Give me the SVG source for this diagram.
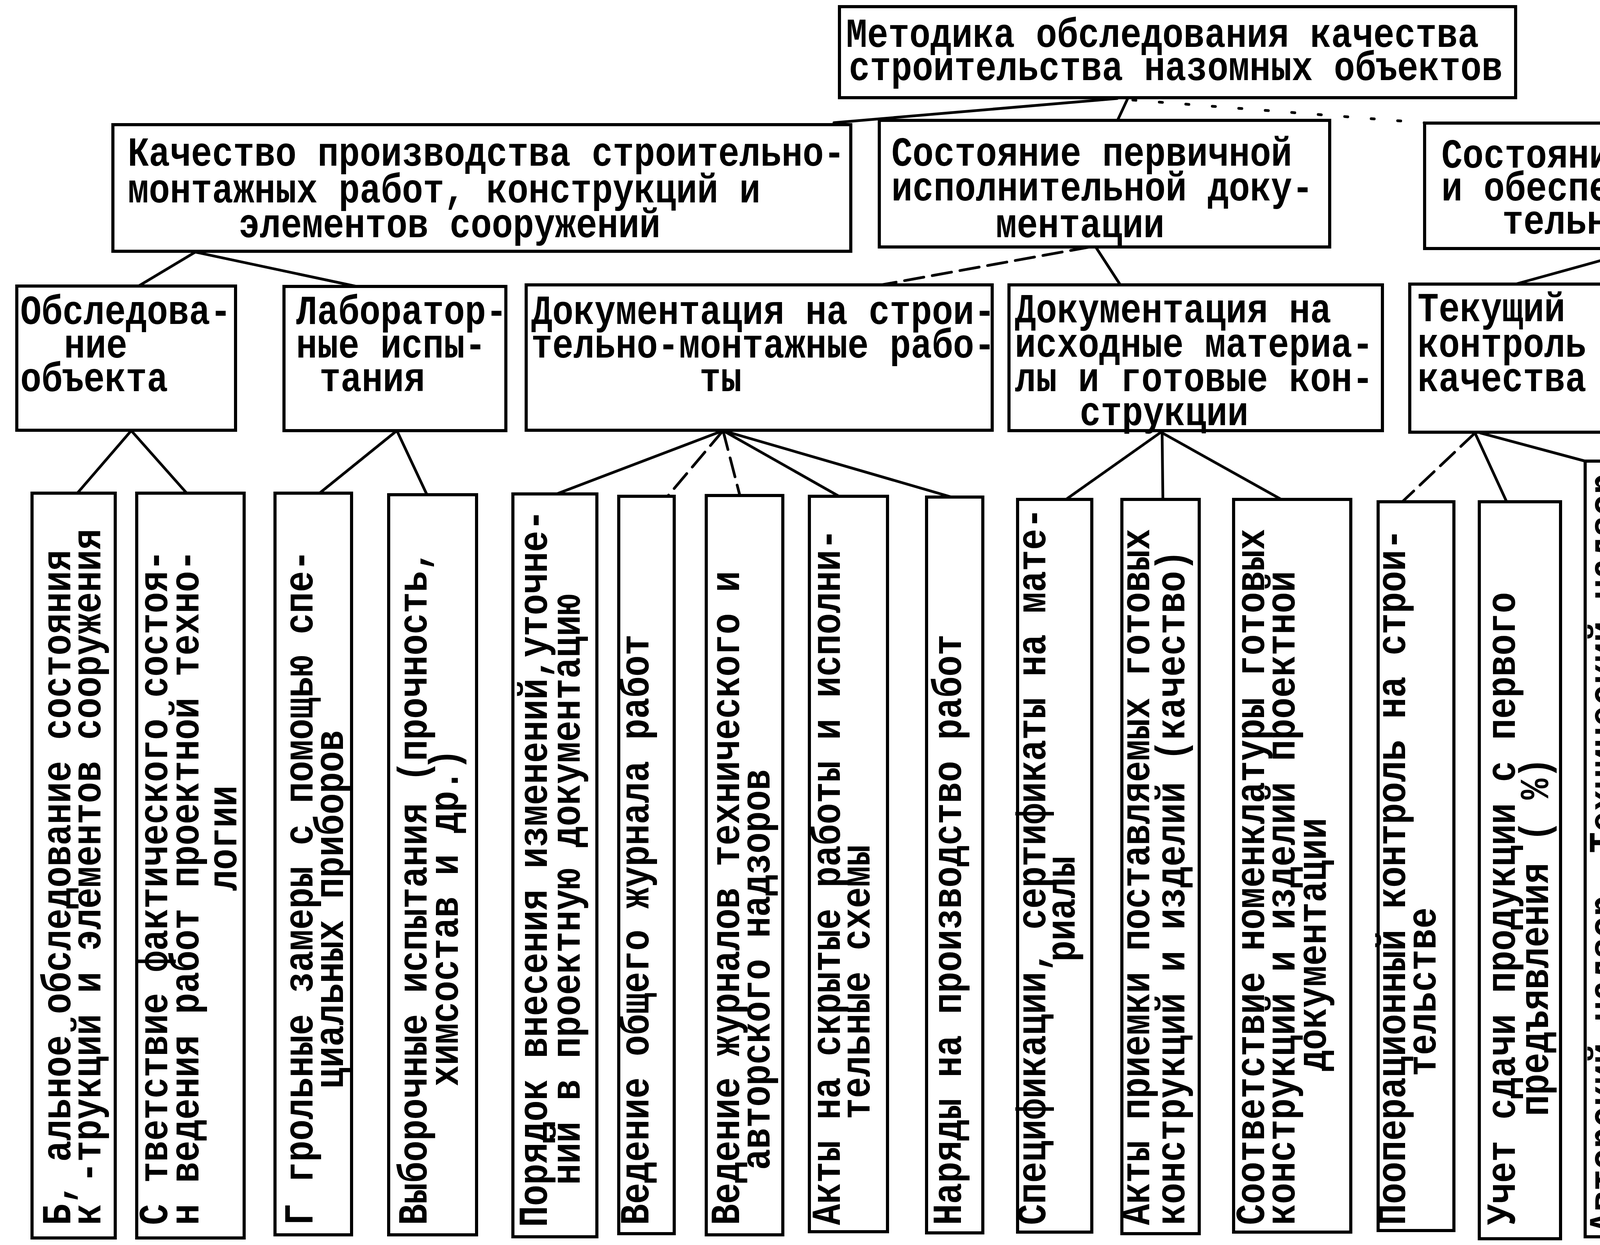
<svg xmlns="http://www.w3.org/2000/svg" width="5312" height="3186" viewBox="0 0 5312 3186">
<style>
.box{fill:#fff;stroke:#000;stroke-width:8}
.t{font-family:"Liberation Mono","DejaVu Sans Mono",monospace;font-weight:bold;font-size:105px;fill:#000}
.c{stroke:#000;stroke-width:7;fill:none;stroke-linecap:round}
.d{stroke-dasharray:50 22}
.o{stroke-dasharray:8 60}
</style>
<rect x="0" y="0" width="5312" height="3186" fill="#fff"/>
<g id="connectors">
<line class="c" x1="2860" y1="252" x2="2135" y2="314"/>
<line class="c" x1="2887" y1="252" x2="2860" y2="310"/>
<line class="c o" x1="2900" y1="256" x2="3655" y2="315"/>
<line class="c" x1="500" y1="645" x2="353" y2="733"/>
<line class="c" x1="500" y1="645" x2="913" y2="733"/>
<line class="c d" x1="2790" y1="632" x2="2256" y2="729"/>
<line class="c" x1="2805" y1="632" x2="2868" y2="729"/>
<line class="c" x1="4209" y1="636" x2="3880" y2="727"/>
<line class="c" x1="4209" y1="636" x2="4590" y2="725"/>
<line class="c" x1="336" y1="1102" x2="198" y2="1262"/>
<line class="c" x1="336" y1="1102" x2="478" y2="1262"/>
<line class="c" x1="1016" y1="1102" x2="818" y2="1262"/>
<line class="c" x1="1016" y1="1102" x2="1093" y2="1266"/>
<line class="c" x1="1851" y1="1102" x2="1425" y2="1264"/>
<line class="c d" x1="1851" y1="1102" x2="1709" y2="1270"/>
<line class="c d" x1="1851" y1="1102" x2="1894" y2="1268"/>
<line class="c" x1="1851" y1="1102" x2="2148" y2="1270"/>
<line class="c" x1="1851" y1="1102" x2="2436" y2="1272"/>
<line class="c" x1="2972" y1="1106" x2="2729" y2="1278"/>
<line class="c" x1="2975" y1="1106" x2="2977" y2="1278"/>
<line class="c" x1="2972" y1="1106" x2="3280" y2="1278"/>
<line class="c d" x1="3776" y1="1108" x2="3590" y2="1284"/>
<line class="c" x1="3776" y1="1108" x2="3857" y2="1284"/>
<line class="c" x1="3790" y1="1108" x2="4058" y2="1180"/>
<line class="c" x1="4702" y1="1106" x2="4350" y2="1246"/>
<line class="c d" x1="4702" y1="1106" x2="4575" y2="1244"/>
<line class="c" x1="4702" y1="1106" x2="4800" y2="1246"/>
<line class="c" x1="4702" y1="1106" x2="4967" y2="1246"/>
<line class="c d" x1="4702" y1="1106" x2="5200" y2="1246"/>
</g>
<g id="n0"><rect class="box" x="2149" y="17" width="1731" height="233"/>
<text class="t" transform="translate(2166,120) scale(0.857,1)">Методика обследования качества</text>
<text class="t" transform="translate(2173,205) scale(0.857,1)">строительства назомных объектов</text></g>
<g id="nA"><rect class="box" x="289" y="319" width="1889" height="324"/>
<text class="t" transform="translate(327,424) scale(0.857,1)">Качество производства строительно-</text>
<text class="t" transform="translate(327,518) scale(0.857,1)">монтажных работ, конструкций и</text>
<text class="t" transform="translate(611,607) scale(0.857,1)">элементов сооружений</text></g>
<g id="nB"><rect class="box" x="2251" y="308" width="1153" height="324"/>
<text class="t" transform="translate(2282,424) scale(0.857,1)">Состояние первичной</text>
<text class="t" transform="translate(2282,513) scale(0.857,1)">исполнительной доку-</text>
<text class="t" transform="translate(2549,607) scale(0.857,1)">ментации</text></g>
<g id="nC"><rect class="box" x="3647" y="315" width="1652" height="321"/>
<text class="t" transform="translate(3690,429) scale(0.857,1)">Состояние текущего контроля</text>
<text class="t" transform="translate(3690,513) scale(0.857,1)">и обеспечения качества строи-</text>
<text class="t" transform="translate(3846,598) scale(0.857,1)">тельно-монтажных работ</text></g>
<g id="nD1"><rect class="box" x="43" y="732" width="560" height="369"/>
<text class="t" transform="translate(52,829) scale(0.857,1)">Обследова-</text>
<text class="t" transform="translate(164,915) scale(0.857,1)">ние</text>
<text class="t" transform="translate(52,1001) scale(0.857,1)">объекта</text></g>
<g id="nD2"><rect class="box" x="727" y="733" width="568" height="369"/>
<text class="t" transform="translate(758,829) scale(0.857,1)">Лаборатор-</text>
<text class="t" transform="translate(758,915) scale(0.857,1)">ные испы-</text>
<text class="t" transform="translate(818,1001) scale(0.857,1)">тания</text></g>
<g id="nD3"><rect class="box" x="1347" y="729" width="1193" height="372"/>
<text class="t" transform="translate(1360,829) scale(0.857,1)">Документация на строи-</text>
<text class="t" transform="translate(1360,915) scale(0.857,1)">тельно-монтажные рабо-</text>
<text class="t" transform="translate(1791,1001) scale(0.857,1)">ты</text></g>
<g id="nD4"><rect class="box" x="2583" y="729" width="956" height="373"/>
<text class="t" transform="translate(2598,825) scale(0.857,1)">Документация на</text>
<text class="t" transform="translate(2598,913) scale(0.857,1)">исходные материа-</text>
<text class="t" transform="translate(2598,1001) scale(0.857,1)">лы и готовые кон-</text>
<text class="t" transform="translate(2764,1088) scale(0.857,1)">струкции</text></g>
<g id="nD5"><rect class="box" x="3609" y="727" width="501" height="379"/>
<text class="t" transform="translate(3629,822) scale(0.857,1)">Текущий</text>
<text class="t" transform="translate(3629,913) scale(0.857,1)">контроль</text>
<text class="t" transform="translate(3629,1001) scale(0.857,1)">качества</text></g>
<g id="nD6"><rect class="box" x="4356" y="725" width="657" height="381"/>
<text class="t" transform="translate(4391,820) scale(0.857,1)">Обеспечение</text>
<text class="t" transform="translate(4391,910) scale(0.857,1)">качества</text></g>
<g id="v1"><rect class="box" x="82" y="1262" width="213" height="1906"/>
<text class="t" transform="translate(180,3135) rotate(-90) scale(0.857,1)">Б,  альное обследование состояния</text>
<text class="t" transform="translate(257,3135) rotate(-90) scale(0.857,1)">к  -трукций и элементов сооружения</text></g>
<g id="v2"><rect class="box" x="350" y="1262" width="275" height="1906"/>
<text class="t" transform="translate(428,3135) rotate(-90) scale(0.857,1)">С  тветствие фактического состоя-</text>
<text class="t" transform="translate(508,3135) rotate(-90) scale(0.857,1)">н   ведения работ проектной техно-</text>
<text class="t" transform="translate(605,2280) rotate(-90) scale(0.857,1)">логии</text></g>
<g id="v3"><rect class="box" x="704" y="1262" width="196" height="1898"/>
<text class="t" transform="translate(800,3135) rotate(-90) scale(0.857,1)">Г  грольные замеры с помощью спе-</text>
<text class="t" transform="translate(878,2786) rotate(-90) scale(0.857,1)">циальных приборов</text></g>
<g id="v4"><rect class="box" x="995" y="1266" width="225" height="1894"/>
<text class="t" transform="translate(1092,3135) rotate(-90) scale(0.857,1)">Выборочные испытания (прочность,</text>
<text class="t" transform="translate(1172,2780) rotate(-90) scale(0.857,1)">химсостав и др.)</text></g>
<g id="v5"><rect class="box" x="1313" y="1264" width="215" height="1901"/>
<text class="t" transform="translate(1400,3140) rotate(-90) scale(0.857,1)">Порядок внесения изменений,уточне-</text>
<text class="t" transform="translate(1484,3032) rotate(-90) scale(0.857,1)">ний в проектную документацию</text></g>
<g id="v6"><rect class="box" x="1584" y="1270" width="142" height="1887"/>
<text class="t" transform="translate(1660,3135) rotate(-90) scale(0.857,1)">Ведение общего журнала работ</text></g>
<g id="v7"><rect class="box" x="1808" y="1268" width="196" height="1892"/>
<text class="t" transform="translate(1892,3135) rotate(-90) scale(0.857,1)">Ведение журналов технического и</text>
<text class="t" transform="translate(1970,2994) rotate(-90) scale(0.857,1)">авторского надзоров</text></g>
<g id="v8"><rect class="box" x="2072" y="1270" width="200" height="1882"/>
<text class="t" transform="translate(2150,3135) rotate(-90) scale(0.857,1)">Акты на скрытые работы и исполни-</text>
<text class="t" transform="translate(2226,2864) rotate(-90) scale(0.857,1)">тельные схемы</text></g>
<g id="v9"><rect class="box" x="2372" y="1272" width="144" height="1883"/>
<text class="t" transform="translate(2460,3135) rotate(-90) scale(0.857,1)">Наряды на производство работ</text></g>
<g id="v10"><rect class="box" x="2605" y="1278" width="190" height="1875"/>
<text class="t" transform="translate(2676,3135) rotate(-90) scale(0.857,1)">Спецификации, сертификаты на мате-</text>
<text class="t" transform="translate(2751,2461) rotate(-90) scale(0.857,1)">риалы</text></g>
<g id="v11"><rect class="box" x="2872" y="1278" width="198" height="1879"/>
<text class="t" transform="translate(2942,3135) rotate(-90) scale(0.857,1)">Акты приемки поставляемых готовых</text>
<text class="t" transform="translate(3032,3135) rotate(-90) scale(0.857,1)">конструкций и изделий (качество)</text></g>
<g id="v12"><rect class="box" x="3158" y="1278" width="300" height="1875"/>
<text class="t" transform="translate(3236,3135) rotate(-90) scale(0.857,1)">Соответствие номенклатуры готовых</text>
<text class="t" transform="translate(3314,3135) rotate(-90) scale(0.857,1)">конструкций и изделий проектной</text>
<text class="t" transform="translate(3394,2741) rotate(-90) scale(0.857,1)">документации</text></g>
<g id="v13"><rect class="box" x="3528" y="1284" width="194" height="1865"/>
<text class="t" transform="translate(3597,3135) rotate(-90) scale(0.857,1)">Пооперационный контроль на строи-</text>
<text class="t" transform="translate(3675,2754) rotate(-90) scale(0.857,1)">тельстве</text></g>
<g id="v14"><rect class="box" x="3787" y="1284" width="208" height="1886"/>
<text class="t" transform="translate(3878,3135) rotate(-90) scale(0.857,1)">Учет сдачи продукции с первого</text>
<text class="t" transform="translate(3963,2856) rotate(-90) scale(0.857,1)">предъявления (  %)</text></g>
<g id="v15"><rect class="box" x="4058" y="1180" width="120" height="1985"/>
<text class="t" transform="translate(4140,3155) rotate(-90) scale(0.857,1)">Авторский надзор. Технический надзор</text></g>
<g id="v16"><rect class="box" x="4234" y="1246" width="192" height="1909"/>
<text class="t" transform="translate(4320,3135) rotate(-90) scale(0.857,1)">Система оценки качества строитель-</text>
<text class="t" transform="translate(4402,2757) rotate(-90) scale(0.857,1)">но-монтажных работ</text></g>
<g id="v17"><rect class="box" x="4467" y="1244" width="195" height="1906"/>
<text class="t" transform="translate(4546,3135) rotate(-90) scale(0.857,1)">Меры стимулирования качества строи-</text>
<text class="t" transform="translate(4618,3135) rotate(-90) scale(0.857,1)">тельства (поощрения и взыскания)</text></g>
<g id="v18"><rect class="box" x="4725" y="1246" width="186" height="1904"/>
<text class="t" transform="translate(4798,3135) rotate(-90) scale(0.857,1)">Уровень технической подготовки кад-</text>
<text class="t" transform="translate(4880,2320) rotate(-90) scale(0.857,1)">ров</text></g>
<g id="v19"><rect class="box" x="4948" y="1246" width="102" height="1906"/>
<text class="t" transform="translate(5033,3135) rotate(-90) scale(0.857,1)">Состояние геодезической службы</text></g>
<g id="v20"><rect class="box" x="5126" y="1246" width="182" height="1904"/>
<text class="t" transform="translate(5198,3135) rotate(-90) scale(0.857,1)">Политико-воспитательные, организа-</text>
<text class="t" transform="translate(5296,2816) rotate(-90) scale(0.857,1)">ционные мероприятия</text></g>
</svg>
